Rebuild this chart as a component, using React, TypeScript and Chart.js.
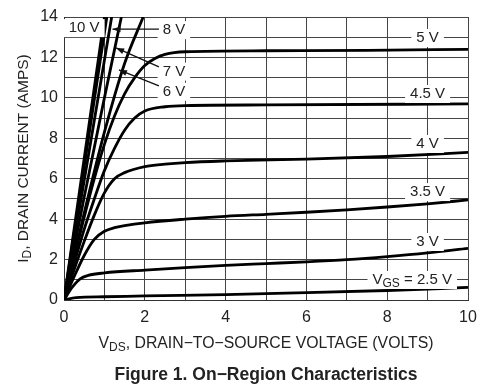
import React, { useEffect, useRef } from "react";
import { Chart, registerables } from "chart.js";

Chart.register(...registerables);

// V_DS (volts), I_D (amps), one array per gate voltage
const curve10V: [number, number][] = [[0, 0], [0.5, 7.0], [1.0, 14]];
const curve9V: [number, number][] = [[0, 0], [0.5, 6.6], [1.06, 14]];
const curve8V: [number, number][] = [[0, 0], [0.6, 7.1], [1.18, 14]];
const curve7V: [number, number][] = [[0, 0], [0.5, 5.1], [1.0, 10.0], [1.42, 14]];
const curve6V: [number, number][] = [[0, 0], [0.5, 4.3], [1.0, 8.3], [1.5, 11.7], [1.96, 14]];
const curve5V: [number, number][] = [
  [0, 0], [0.25, 2.1], [0.5, 4.1], [0.75, 6.0], [1.0, 7.7], [1.25, 9.1], [1.5, 10.2],
  [1.75, 11.0], [2.0, 11.6], [2.25, 11.95], [2.5, 12.15], [3, 12.28], [5, 12.33], [7.5, 12.35], [10, 12.4],
];
const curve4_5V: [number, number][] = [
  [0, 0], [0.25, 1.8], [0.5, 3.5], [0.75, 5.0], [1.0, 6.4], [1.25, 7.5], [1.5, 8.4],
  [1.75, 9.0], [2.0, 9.35], [2.5, 9.56], [3, 9.62], [5, 9.65], [10, 9.7],
];
const curve4V: [number, number][] = [
  [0, 0], [0.25, 1.5], [0.5, 2.9], [0.75, 4.2], [1.0, 5.3], [1.25, 6.0], [1.5, 6.3],
  [2.0, 6.6], [2.5, 6.72], [3, 6.8], [4, 6.88], [6, 6.97], [8, 7.1], [10, 7.3],
];
const curve3_5V: [number, number][] = [
  [0, 0], [0.25, 1.15], [0.5, 2.2], [0.75, 3.0], [1.0, 3.4], [1.25, 3.58], [1.5, 3.68],
  [2, 3.82], [3, 4.0], [4, 4.14], [5, 4.24], [6, 4.34], [7, 4.46], [8, 4.6], [9, 4.76], [10, 4.95],
];
const curve3V: [number, number][] = [
  [0, 0], [0.2, 0.62], [0.4, 1.05], [0.6, 1.22], [1, 1.34], [2, 1.48], [3, 1.6], [4, 1.71],
  [5, 1.8], [6, 1.89], [7, 2.0], [8, 2.15], [9, 2.33], [10, 2.55],
];
const curve2_5V: [number, number][] = [
  [0, 0], [0.3, 0.12], [1, 0.16], [2, 0.2], [4, 0.27], [6, 0.36], [8, 0.47], [10, 0.62],
];

const seriesNames = ["10 V", "9 V", "8 V", "7 V", "6 V", "5 V", "4.5 V", "4 V", "3.5 V", "3 V", "2.5 V"];
const seriesData = [curve10V, curve9V, curve8V, curve7V, curve6V, curve5V, curve4_5V, curve4V, curve3_5V, curve3V, curve2_5V];

const xLabelTicks = [0, 2, 4, 6, 8, 10];
const yLabelTicks = [0, 2, 4, 6, 8, 10, 12, 14];

// curve label annotations (data units)
type Part = { t: string; sub?: boolean };
const curveLabels: { parts: Part[]; x: number; y: number; tip?: [number, number]; from?: [number, number] }[] = [
  { parts: [{ t: "10 V" }], x: 0.5, y: 13.45 },
  { parts: [{ t: "8 V" }], x: 2.72, y: 13.35, tip: [1.2, 13.4], from: [2.35, 13.4] },
  { parts: [{ t: "7 V" }], x: 2.72, y: 11.3, tip: [1.29, 12.47], from: [2.35, 11.53] },
  { parts: [{ t: "6 V" }], x: 2.72, y: 10.3, tip: [1.36, 11.38], from: [2.35, 10.59] },
  { parts: [{ t: "5 V" }], x: 9.0, y: 12.96 },
  { parts: [{ t: "4.5 V" }], x: 9.0, y: 10.19 },
  { parts: [{ t: "4 V" }], x: 9.0, y: 7.72 },
  { parts: [{ t: "3.5 V" }], x: 9.0, y: 5.34 },
  { parts: [{ t: "3 V" }], x: 9.0, y: 2.87 },
  { parts: [{ t: "V" }, { t: "GS", sub: true }, { t: " = 2.5 V" }], x: 8.62, y: 0.99 },
];

const FONT = '"Liberation Sans", Arial, Helvetica, sans-serif';
const TEXT = "#222222";

function richWidth(ctx: CanvasRenderingContext2D, parts: Part[], size: number, subSize: number, bold = false) {
  let w = 0;
  for (const p of parts) {
    ctx.font = `${bold ? "bold " : ""}${p.sub ? subSize : size}px ${FONT}`;
    w += ctx.measureText(p.t).width;
  }
  return w;
}

function drawRich(ctx: CanvasRenderingContext2D, parts: Part[], cx: number, cy: number, size: number, subSize: number, bold = false) {
  const w = richWidth(ctx, parts, size, subSize, bold);
  let x = cx - w / 2;
  ctx.textBaseline = "middle";
  ctx.textAlign = "left";
  for (const p of parts) {
    ctx.font = `${bold ? "bold " : ""}${p.sub ? subSize : size}px ${FONT}`;
    ctx.fillText(p.t, x, p.sub ? cy + 4 : cy);
    x += ctx.measureText(p.t).width;
  }
  return w;
}

const annotPlugin = {
  id: "annot",
  afterDatasetsDraw(chart: any) {
    const ctx: CanvasRenderingContext2D = chart.ctx;
    const xs = chart.scales.x;
    const ys = chart.scales.y;
    ctx.save();
    for (const l of curveLabels) {
      const cx = xs.getPixelForValue(l.x);
      const cy = ys.getPixelForValue(l.y);
      const w = richWidth(ctx, l.parts, 15, 12);
      ctx.fillStyle = "#ffffff";
      ctx.fillRect(cx - w / 2 - 5, cy - 9, w + 10, 18);
      if (l.tip && l.from) {
        const tx = xs.getPixelForValue(l.tip[0]);
        const ty = ys.getPixelForValue(l.tip[1]);
        const fx = xs.getPixelForValue(l.from[0]);
        const fy = ys.getPixelForValue(l.from[1]);
        ctx.strokeStyle = "#111";
        ctx.lineWidth = 1.3;
        ctx.beginPath();
        ctx.moveTo(fx, fy);
        ctx.lineTo(tx, ty);
        ctx.stroke();
        const ang = Math.atan2(ty - fy, tx - fx);
        const len = 8;
        const hw = 3;
        const bx = tx - Math.cos(ang) * len;
        const by = ty - Math.sin(ang) * len;
        ctx.fillStyle = "#111";
        ctx.beginPath();
        ctx.moveTo(tx, ty);
        ctx.lineTo(bx + Math.sin(ang) * hw, by - Math.cos(ang) * hw);
        ctx.lineTo(bx - Math.sin(ang) * hw, by + Math.cos(ang) * hw);
        ctx.closePath();
        ctx.fill();
      }
      ctx.fillStyle = TEXT;
      drawRich(ctx, l.parts, cx, cy, 15, 12);
    }
    ctx.restore();
  },
  afterDraw(chart: any) {
    const ctx: CanvasRenderingContext2D = chart.ctx;
    const area = chart.chartArea;
    ctx.save();
    ctx.fillStyle = TEXT;
    const xc = (area.left + area.right) / 2;
    // x axis title
    drawRich(ctx, [{ t: "V" }, { t: "DS", sub: true }, { t: ", DRAIN\u2212TO\u2212SOURCE VOLTAGE (VOLTS)" }], xc, 344, 15.8, 12);
    // figure title
    drawRich(ctx, [{ t: "Figure 1. On\u2212Region Characteristics" }], xc, 375, 17.5, 12, true);
    // y axis title
    ctx.save();
    ctx.translate(24, (area.top + area.bottom) / 2);
    ctx.rotate(-Math.PI / 2);
    drawRich(ctx, [{ t: "I" }, { t: "D", sub: true }, { t: ", DRAIN CURRENT (AMPS)" }], 0, 0, 15.5, 12);
    ctx.restore();
    ctx.restore();
  },
};

export default function App() {
  const ref = useRef<HTMLCanvasElement | null>(null);
  useEffect(() => {
    if (!ref.current) return;
    const chart = new Chart(ref.current, {
      type: "line",
      data: {
        datasets: seriesData.map((d, i) => ({
          label: seriesNames[i],
          data: d.map(([x, y]) => ({ x, y })),
          borderColor: "#000000",
          borderWidth: 2.8,
          pointRadius: 0,
          fill: false,
          cubicInterpolationMode: "monotone" as const,
          clip: 0,
        })),
      },
      options: {
        animation: false,
        responsive: true,
        maintainAspectRatio: false,
        layout: { padding: { top: 17, right: 20, left: 0, bottom: 0 } },
        plugins: { legend: { display: false }, tooltip: { enabled: false }, title: { display: false } },
        scales: {
          x: {
            type: "linear",
            min: 0,
            max: 10,
            ticks: {
              stepSize: 1,
              autoSkip: false,
              maxRotation: 0,
              padding: 8,
              color: TEXT,
              font: { family: FONT, size: 16 },
              callback: (v: any) => (xLabelTicks.includes(Number(v)) ? String(v) : ""),
            },
            grid: { color: "#444444", lineWidth: 1, drawTicks: false },
            border: { color: "#333", width: 1 },
            afterFit: (s: any) => { s.height = 87; },
          },
          y: {
            type: "linear",
            min: 0,
            max: 14,
            ticks: {
              stepSize: 1,
              autoSkip: false,
              padding: 6,
              color: TEXT,
              font: { family: FONT, size: 16 },
              callback: (v: any) => (yLabelTicks.includes(Number(v)) ? String(v) : ""),
            },
            grid: { color: "#444444", lineWidth: 1, drawTicks: false },
            border: { color: "#333", width: 1 },
            afterFit: (s: any) => { s.width = 64; },
          },
        },
      },
      plugins: [annotPlugin],
    });
    return () => chart.destroy();
  }, []);
  return (
    <div style={{ position: "fixed", left: 0, top: 0, width: 488, height: 387, background: "#fff" }}>
      <canvas ref={ref} />
    </div>
  );
}
